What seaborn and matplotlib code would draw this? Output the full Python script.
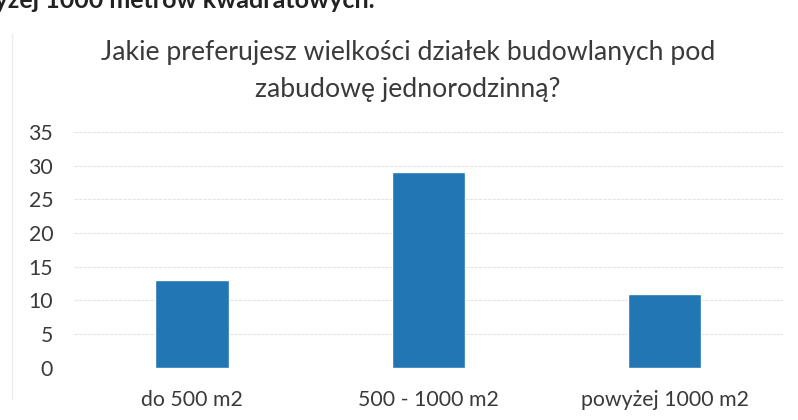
import matplotlib
matplotlib.use("Agg")
import matplotlib.pyplot as plt
import seaborn as sns
import pandas as pd

categories = ["do 500 m2", "500 - 1000 m2", "powyżej 1000 m2"]
values = [13, 29, 11]
yticks = [0, 5, 10, 15, 20, 25, 30, 35]
title = "Jakie preferujesz wielkości działek budowlanych pod\nzabudowę jednorodzinną?"
header = "powyżej 1000 metrów kwadratowych."

sns.set_theme(style="white")
plt.rcParams['font.family'] = ['Lato', 'DejaVu Sans']

df = pd.DataFrame({"cat": categories, "val": values})

fig = plt.figure(figsize=(7.98, 4.2), dpi=100)
ax = fig.add_axes([0.0927, 0.124, 0.888, 0.562])
sns.barplot(data=df, x="cat", y="val", color="#2176b3", width=0.31, saturation=1, ax=ax)
ax.set_ylim(0, 35)
ax.set_xlim(-0.5, 2.5)
ax.set_yticks(yticks)
ax.set_xlabel("")
ax.set_ylabel("")
ax.yaxis.grid(True, color="#e4e4e4", linewidth=0.8, linestyle=(0, (3, 1)))
ax.set_axisbelow(True)
for s in ax.spines.values():
    s.set_visible(False)
ax.tick_params(axis="both", length=0, labelsize=15.3, colors="#3a3a3a")
ax.tick_params(axis="y", pad=15)
ax.tick_params(axis="x", pad=16)

fig.text(0.511, 0.83, title, ha="center", va="center", fontsize=19.2,
         color="#3a3a3a", linespacing=1.6)
fig.text(375/798, 1.0, header, ha="right", va="center", fontsize=18,
         fontweight="bold", color="#222222")
fig.add_artist(plt.Line2D([12/798, 12/798], [0.05, 0.92], color="#ececec", linewidth=1))

fig.savefig("out.png", dpi=100)
